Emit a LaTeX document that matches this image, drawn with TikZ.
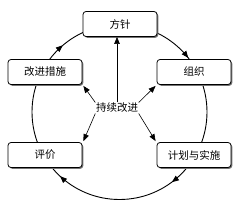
\documentclass[tikz,border=0pt]{standalone}
\usepackage{fontspec}
\newfontfamily\cjk{Noto Sans CJK SC}
\usetikzlibrary{arrows.meta,shadows,decorations.markings}
\tikzset{
  pdca box/.style={draw=black, line width=0.8pt, rounded corners=3pt, fill=white,
    minimum width=74pt, minimum height=25pt, inner sep=0pt,
    font=\cjk\fontsize{10.5}{12}\selectfont,
    drop shadow={shadow xshift=1.3pt, shadow yshift=-1.3pt, fill=black!55, opacity=1}},
  pdca ring/.style={draw=black, line width=0.9pt},
  pdca link/.style={draw=black, line width=0.6pt, -{Triangle[length=7pt,width=5.5pt]}},
  pdca label/.style={font=\cjk\fontsize{10.5}{12}\selectfont, inner sep=0.5pt},
}
\begin{document}
\begin{tikzpicture}[x=1pt, y=1pt]
  \useasboundingbox (0,0) rectangle (243,210);
  % Ring first, boxes paint over it (clockwise, tips placed along the way)
  \coordinate (hub) at (119.5,98);
  \draw[pdca ring, postaction={decorate},
    decoration={markings,
      mark=at position 0.148 with {\arrow{Triangle[length=7pt,width=5.5pt]}},
      mark=at position 0.369 with {\arrow{Triangle[length=7pt,width=5.5pt]}},
      mark=at position 0.638 with {\arrow{Triangle[length=7pt,width=5.5pt]}},
      mark=at position 0.894 with {\arrow{Triangle[length=7pt,width=5.5pt]}}}]
    (hub) ++(0:87.5) arc[start angle=0, end angle=-360, radius=87.5];
  % The five stages
  \node[pdca box] (aim)  at (120,186) {方针};
  \node[pdca box] (org)  at (194,138) {组织};
  \node[pdca box] (plan) at (194,55)  {计划与实施};
  \node[pdca box] (eval) at (45,55)   {评价};
  \node[pdca box] (fix)  at (45,138)  {改进措施};
  % Centre and its spokes
  \node[pdca label] (core) at (117,102) {持续改进};
  \draw[pdca link] (core.north) -- (core.north |- aim.south);
  \draw[pdca link] (core.north west) -- ([xshift=1pt,yshift=-1pt]fix.south east);
  \draw[pdca link] (core.north east) -- ([xshift=-1pt,yshift=-1pt]org.south west);
  \draw[pdca link] (core.south west) -- ([xshift=1pt,yshift=1pt]eval.north east);
  \draw[pdca link] (core.south east) -- ([xshift=-1pt,yshift=1pt]plan.north west);
\end{tikzpicture}
\end{document}
